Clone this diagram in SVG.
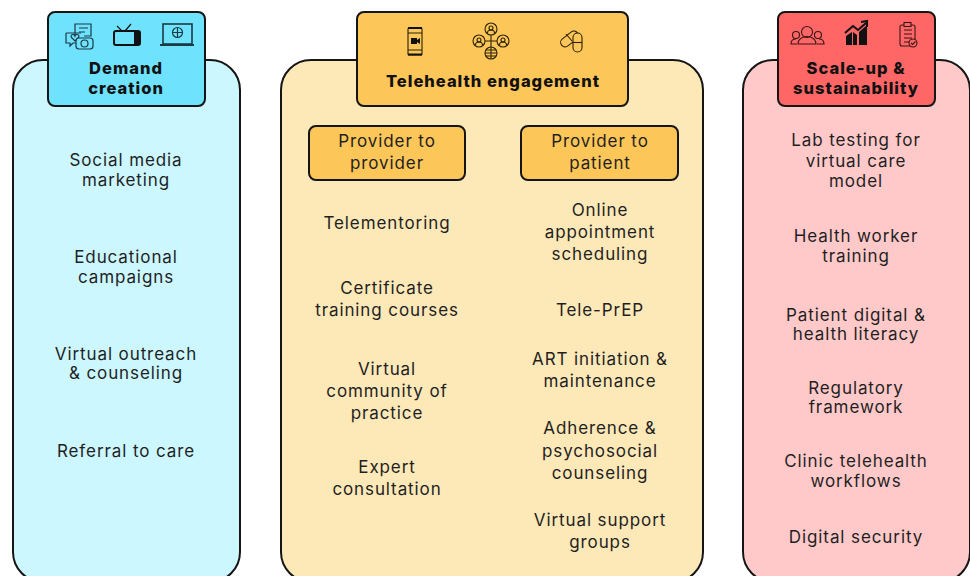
<svg xmlns="http://www.w3.org/2000/svg" width="970" height="576" viewBox="0 0 970 576">
<style>
text{font-family:"Inter","Liberation Sans",sans-serif;font-size:17px;fill:#1f1f1f;text-anchor:middle;letter-spacing:.9px}
.h{font-weight:800;font-size:16.5px;letter-spacing:1px;fill:#111}
.p{stroke:#151515;stroke-width:2}
.i{fill:none;stroke:#1a3a44;stroke-width:1.2}
.o{fill:none;stroke:#2a2208;stroke-width:1.1}
.r{fill:none;stroke:#3a1414;stroke-width:1.1}
.k{fill:#111;stroke:none}
</style>
<rect width="970" height="576" fill="#fff"/>
<g id="demand-creation">
<rect class="p" x="13" y="60" width="227" height="522" rx="30" fill="#ccf7ff"/>
<rect class="p" x="48" y="12" width="157" height="94" rx="7" fill="#6fe3fd"/>
<g class="i">
<path d="M75 36v-12h16v12h-7"/><path d="M79 28h9M79 32h6"/>
<path d="M66 33h15M66 33v10h4v3l3-3h3"/>
<path d="M72 38c-3-3 2-5 3-2 1-3 6-1 3 2l-3 3z"/>
<rect x="76" y="38" width="17" height="11" rx="3" fill="#6fe3fd"/><circle cx="84.500" cy="43.500" r="3.500"/>
<rect x="114" y="31" width="26" height="14" rx="2" stroke="#111" stroke-width="2"/><rect x="134" y="32" width="5" height="12" class="k"/><path d="M122 31l-5-5M125 31l6-7" stroke="#111"/>
<rect x="163" y="24" width="29" height="20" stroke-width="1.600"/><path d="M160 45h34" stroke-width="2"/><circle cx="177.500" cy="32.500" r="5"/><path d="M172.500 32.500h10M177.500 27.500v10"/>
</g>
<text class="h" x="126" y="74">Demand</text><text class="h" x="126" y="94">creation</text>
<text x="126" y="166">Social media</text><text x="126" y="186">marketing</text>
<text x="126" y="263">Educational</text><text x="126" y="283">campaigns</text>
<text x="126" y="360">Virtual outreach</text><text x="126" y="379">&amp; counseling</text>
<text x="126" y="457">Referral to care</text>
</g>
<g id="telehealth-engagement">
<rect class="p" x="281" y="60" width="422" height="522" rx="30" fill="#fde8b8"/>
<rect class="p" x="357" y="12" width="271" height="94" rx="7" fill="#fdc659"/>
<g class="o">
<rect x="408" y="28" width="14" height="27" rx="1"/><path d="M408 28h14M408 54.500h14" stroke="#111" stroke-width="2"/><path d="M408 33h14M408 50h14"/><path class="k" d="M411 38h6v2l3-2v6l-3-2v2h-6z"/>
<circle cx="491" cy="29" r="6"/><circle cx="479" cy="41" r="6"/><circle cx="503" cy="41" r="6"/><circle cx="491" cy="53" r="6"/>
<path d="M491 35v12M485 41h12M485 53h12M491 47v12M486 50h10M486 56h10"/>
<circle cx="491" cy="28" r="2"/><path d="M487.500 33c0-4 7-4 7 0"/><circle cx="479" cy="40" r="2"/><path d="M475.500 45c0-4 7-4 7 0"/><circle cx="503" cy="40" r="2"/><path d="M499.500 45c0-4 7-4 7 0"/>
<rect x="559.500" y="34.500" width="20" height="9" rx="4.500" transform="rotate(-38 569.500 39)"/><path d="M566 34l6 7"/>
<rect x="573" y="33" width="9" height="19" rx="4.500" fill="#fdc659"/><path d="M573 42.500h9"/>
</g>
<text class="h" x="493" y="87">Telehealth engagement</text>
<rect class="p" x="309" y="126" width="156" height="54" rx="7" fill="#fdc659"/>
<text x="387" y="147">Provider to</text><text x="387" y="169">provider</text>
<rect class="p" x="521" y="126" width="157" height="54" rx="7" fill="#fdc659"/>
<text x="600" y="147">Provider to</text><text x="600" y="169">patient</text>
<text x="387" y="229">Telementoring</text>
<text x="387" y="294">Certificate</text><text x="387" y="316">training courses</text>
<text x="387" y="375">Virtual</text><text x="387" y="397">community of</text><text x="387" y="419">practice</text>
<text x="387" y="473">Expert</text><text x="387" y="495">consultation</text>
<text x="600" y="216">Online</text><text x="600" y="238">appointment</text><text x="600" y="260">scheduling</text>
<text x="600" y="316">Tele-PrEP</text>
<text x="600" y="365">ART initiation &amp;</text><text x="600" y="387">maintenance</text>
<text x="600" y="434">Adherence &amp;</text><text x="600" y="457">psychosocial</text><text x="600" y="479">counseling</text>
<text x="600" y="526">Virtual support</text><text x="600" y="548">groups</text>
</g>
<g id="scale-up-sustainability">
<rect class="p" x="743" y="60" width="227" height="522" rx="30" fill="#ffc9c9"/>
<rect class="p" x="778" y="12" width="157" height="94" rx="7" fill="#ff6767"/>
<g class="r">
<circle cx="807" cy="32" r="5.500"/><circle cx="796" cy="35" r="3.500"/><circle cx="818" cy="35" r="3.500"/>
<path d="M798 44c0-10 18-10 18 0zM797 44h-6c0-4 2-5 5-5M817 44h7c0-4-2-5-5-5"/>
<path class="k" d="M846 45v-9l6-4v13zM853 45v-13l4 3v10zM859 45v-13l8-7v20z"/>
<path d="M845 33l8-7 5 4 8-7M861 22l6-1v6" stroke="#111" stroke-width="2"/>
<rect x="900" y="25" width="15" height="21" rx="2"/><rect x="904" y="22.500" width="7" height="4" fill="#ff6767"/>
<path d="M904 30h8M904 34h8M904 38h8M904 42h5"/><circle cx="913" cy="43" r="4" fill="#ff6767"/><path d="M911 43l1.500 1.500 3-3"/>
</g>
<text class="h" x="856" y="74">Scale-up &amp;</text><text class="h" x="856" y="94">sustainability</text>
<text x="856" y="146">Lab testing for</text><text x="856" y="167">virtual care</text><text x="856" y="187">model</text>
<text x="856" y="242">Health worker</text><text x="856" y="262">training</text>
<text x="856" y="321">Patient digital &amp;</text><text x="856" y="340">health literacy</text>
<text x="856" y="394">Regulatory</text><text x="856" y="413">framework</text>
<text x="856" y="467">Clinic telehealth</text><text x="856" y="487">workflows</text>
<text x="856" y="543">Digital security</text>
</g>
</svg>
